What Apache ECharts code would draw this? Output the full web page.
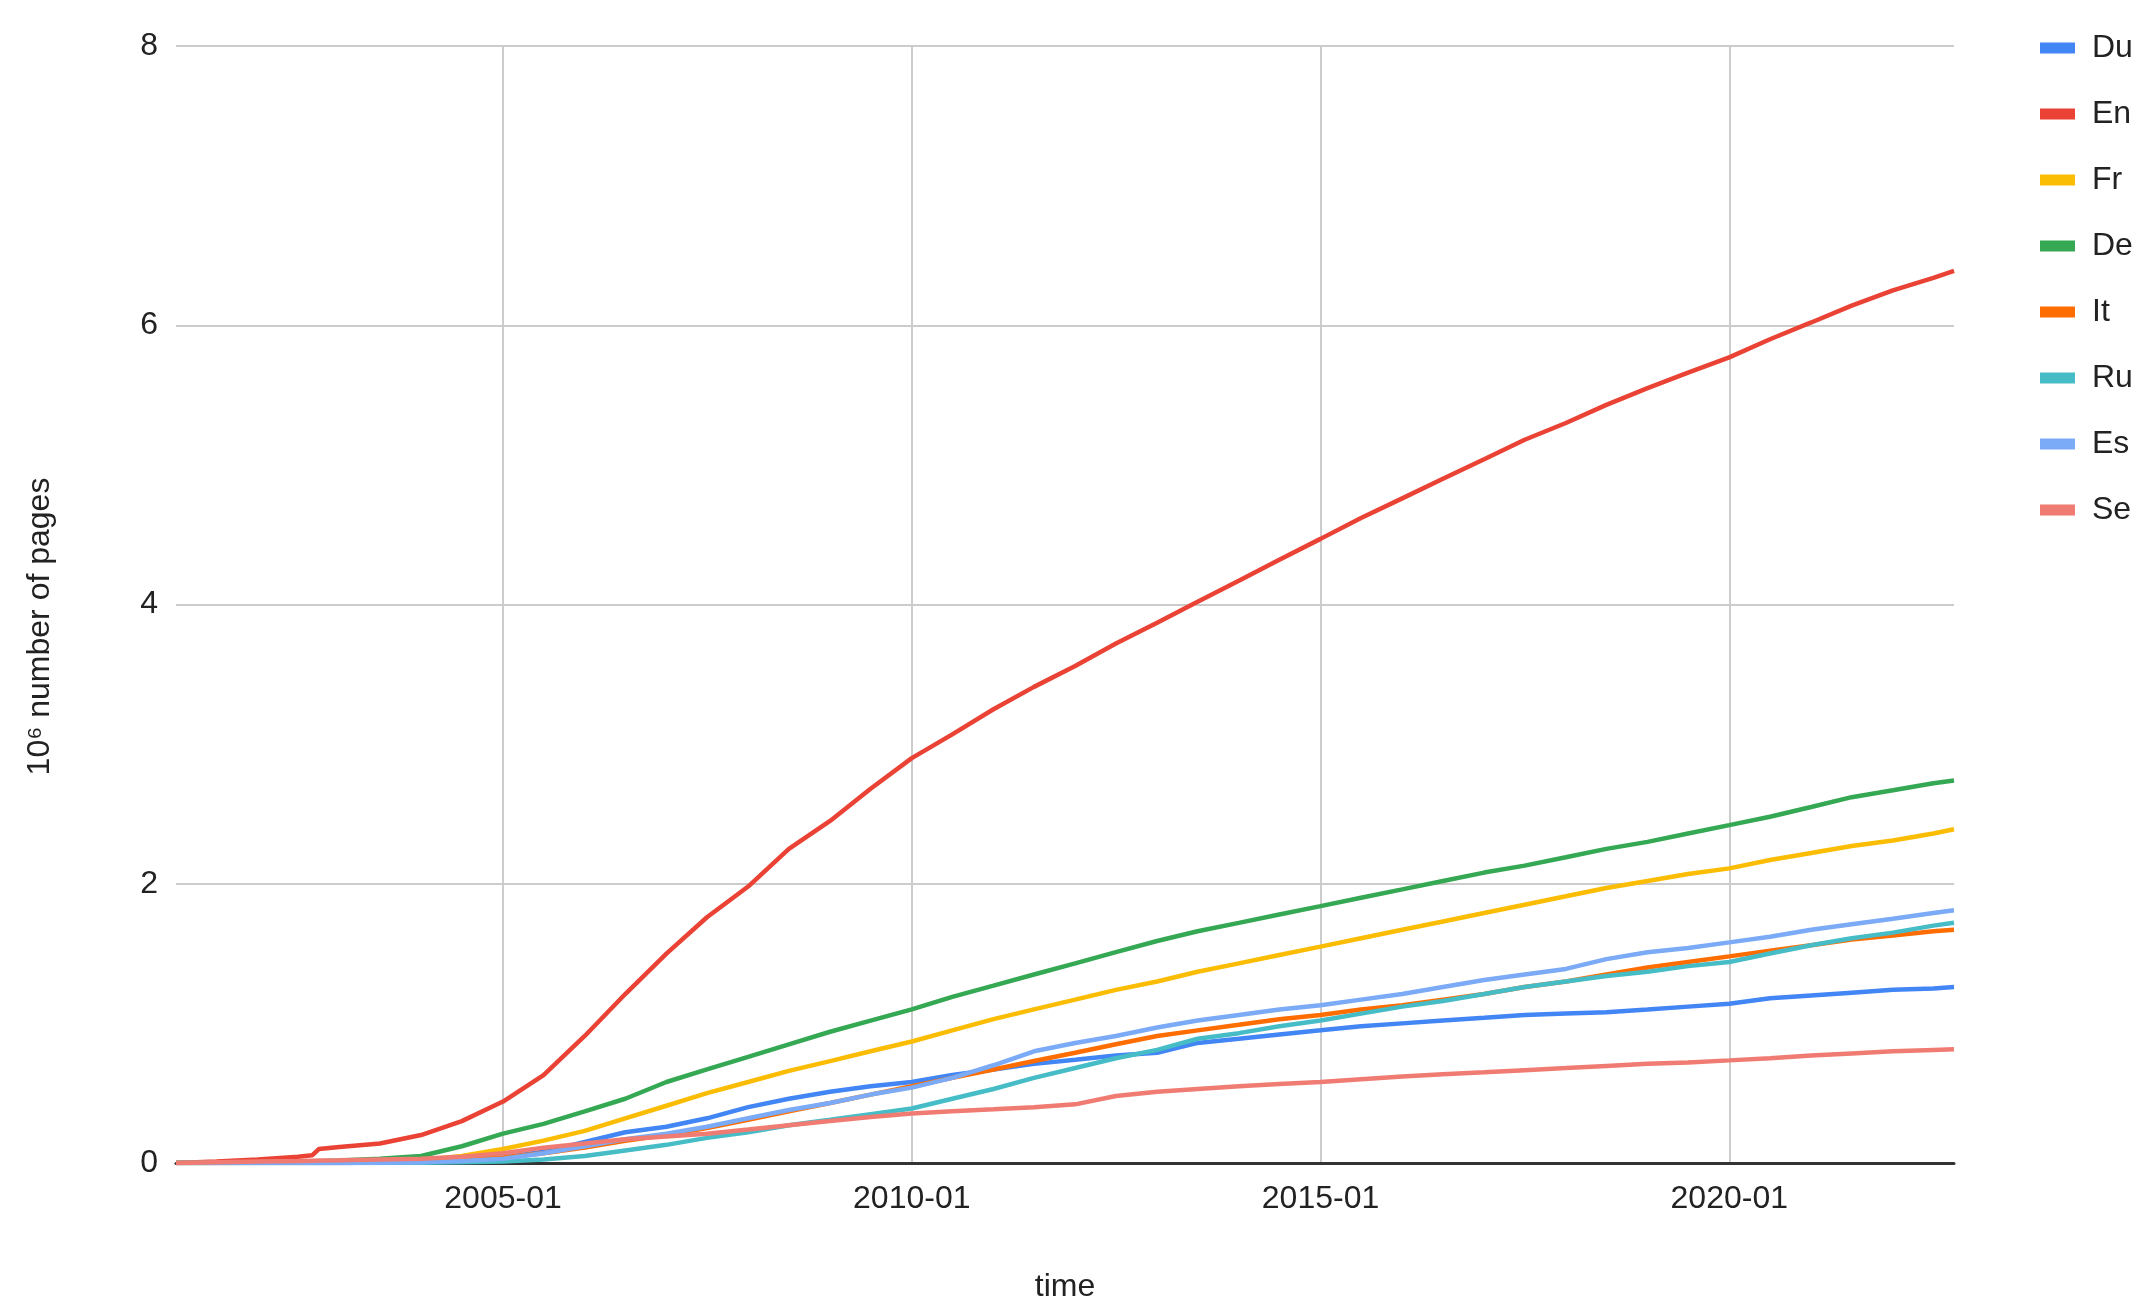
<!DOCTYPE html>
<html>
<head>
<meta charset="utf-8">
<script src="https://cdn.jsdelivr.net/npm/echarts@6/dist/echarts.min.js"></script>
<style>
html,body{margin:0;padding:0;background:#fff;}
#chart{width:2152px;height:1315px;}
</style>
</head>
<body>
<div id="chart"></div>
<script>
const dates = ['2001-01','2001-07','2002-01','2002-07','2002-09','2002-10','2003-01','2003-07','2004-01','2004-07',
  '2005-01','2005-07','2006-01','2006-07','2007-01','2007-07','2008-01','2008-07','2009-01','2009-07',
  '2010-01','2010-07','2011-01','2011-07','2012-01','2012-07','2013-01','2013-07','2014-01','2014-07',
  '2015-01','2015-07','2016-01','2016-07','2017-01','2017-07','2018-01','2018-07','2019-01','2019-07',
  '2020-01','2020-07','2021-01','2021-07','2022-01','2022-07','2022-10'];

const seriesNames = ['Du','En','Fr','De','It','Ru','Es','Se'];
const seriesColors = ['#4285F4','#EA4335','#FBBC04','#34A853','#FF6D01','#46BDC6','#7BAAF7','#F07B72'];

const du = [0,0,0,0,0,0,0,0.003,0.01,0.02,
  0.04,0.08,0.15,0.22,0.26,0.32,0.40,0.46,0.51,0.55,
  0.58,0.63,0.67,0.71,0.74,0.77,0.79,0.86,0.89,0.92,
  0.95,0.98,1.00,1.02,1.04,1.06,1.07,1.08,1.10,1.12,
  1.14,1.18,1.20,1.22,1.24,1.25,1.26];
const en = [0,0.01,0.025,0.045,0.055,0.10,0.115,0.14,0.20,0.30,
  0.44,0.63,0.91,1.21,1.50,1.76,1.98,2.25,2.45,2.68,
  2.90,3.07,3.25,3.41,3.56,3.72,3.87,4.02,4.17,4.32,
  4.47,4.62,4.76,4.90,5.04,5.18,5.30,5.43,5.55,5.66,
  5.77,5.90,6.02,6.14,6.25,6.34,6.39];
const fr = [0,0,0.001,0.002,0.003,0.003,0.005,0.01,0.02,0.05,
  0.10,0.16,0.23,0.32,0.41,0.50,0.58,0.66,0.73,0.80,
  0.87,0.95,1.03,1.10,1.17,1.24,1.30,1.37,1.43,1.49,
  1.55,1.61,1.67,1.73,1.79,1.85,1.91,1.97,2.02,2.07,
  2.11,2.17,2.22,2.27,2.31,2.36,2.39];
const de = [0,0.002,0.005,0.01,0.012,0.013,0.018,0.03,0.05,0.12,
  0.21,0.28,0.37,0.46,0.58,0.67,0.76,0.85,0.94,1.02,
  1.10,1.19,1.27,1.35,1.43,1.51,1.59,1.66,1.72,1.78,
  1.84,1.90,1.96,2.02,2.08,2.13,2.19,2.25,2.30,2.36,
  2.42,2.48,2.55,2.62,2.67,2.72,2.74];
const it = [0,0,0,0,0,0,0,0.003,0.008,0.02,
  0.04,0.07,0.11,0.16,0.20,0.25,0.31,0.37,0.43,0.49,
  0.55,0.61,0.67,0.73,0.79,0.85,0.91,0.95,0.99,1.03,
  1.06,1.10,1.13,1.17,1.21,1.26,1.30,1.35,1.40,1.44,
  1.48,1.52,1.56,1.60,1.63,1.66,1.67];
const ru = [0,0,0,0,0,0,0,0,0.002,0.005,
  0.01,0.025,0.05,0.09,0.13,0.18,0.22,0.27,0.31,0.35,
  0.39,0.46,0.53,0.61,0.68,0.75,0.81,0.89,0.93,0.98,
  1.02,1.07,1.12,1.16,1.21,1.26,1.30,1.34,1.37,1.41,
  1.44,1.50,1.56,1.61,1.65,1.70,1.72];
const es = [0,0,0,0,0,0,0,0.002,0.005,0.015,
  0.03,0.07,0.12,0.17,0.21,0.26,0.32,0.38,0.43,0.49,
  0.54,0.61,0.70,0.80,0.86,0.91,0.97,1.02,1.06,1.10,
  1.13,1.17,1.21,1.26,1.31,1.35,1.39,1.46,1.51,1.54,
  1.58,1.62,1.67,1.71,1.75,1.79,1.81];
const se = [0,0.005,0.01,0.015,0.017,0.018,0.02,0.025,0.03,0.045,
  0.07,0.11,0.14,0.17,0.19,0.21,0.24,0.27,0.30,0.33,
  0.355,0.37,0.385,0.40,0.42,0.48,0.51,0.53,0.55,0.565,
  0.58,0.60,0.62,0.635,0.65,0.665,0.68,0.695,0.71,0.72,
  0.735,0.75,0.77,0.785,0.80,0.81,0.815];

const xTickLabels = ['2005-01','2010-01','2015-01','2020-01'];
const yTicks = [0,2,4,6,8];
const xRange = ['2001-01','2022-10'];

const allValues = [du,en,fr,de,it,ru,es,se];

function toTime(ym){ const p = ym.split('-'); return Date.UTC(+p[0], +p[1]-1, 1); }
function fmt(v){ const d = new Date(v); return d.getUTCFullYear() + '-' + String(d.getUTCMonth()+1).padStart(2,'0'); }

const FONT = '"Liberation Sans", Arial, sans-serif';
const chart = echarts.init(document.getElementById('chart'));
chart.setOption({
  animation: false,
  backgroundColor: '#ffffff',
  color: seriesColors,
  grid: { left: 176, right: 198, top: 46, bottom: 152, containLabel: false },
  legend: {
    orient: 'vertical', left: 2035, top: 23,
    icon: 'rect', itemWidth: 35, itemHeight: 11, itemGap: 26,
    textStyle: { fontFamily: FONT, fontSize: 32, color: '#222', lineHeight: 40, padding: [0,0,0,12] },
    data: seriesNames
  },
  xAxis: {
    type: 'value',
    min: toTime(xRange[0]), max: toTime(xRange[1]),
    name: 'time', nameLocation: 'middle', nameGap: 108,
    nameTextStyle: { fontFamily: FONT, fontSize: 32, color: '#222' },
    axisLine: { show: true, lineStyle: { color: '#333', width: 3 } },
    axisTick: { show: false, customValues: xTickLabels.map(toTime) },
    axisLabel: { customValues: xTickLabels.map(toTime), formatter: fmt, fontFamily: FONT, fontSize: 32, color: '#222', margin: 20 },
    splitLine: { show: true, lineStyle: { color: '#cccccc', width: 2 } }
  },
  yAxis: {
    type: 'value', min: yTicks[0], max: yTicks[yTicks.length-1], interval: 2,
    name: '10\u2076 number of pages', nameLocation: 'middle', nameGap: 120,
    nameTextStyle: { fontFamily: FONT, fontSize: 32, color: '#222', padding: [0, 44, 0, 0] },
    axisLine: { show: false }, axisTick: { show: false },
    axisLabel: { fontFamily: FONT, fontSize: 32, color: '#222', margin: 18 },
    splitLine: { show: true, lineStyle: { color: '#cccccc', width: 2 } }
  },
  series: seriesNames.map((n, k) => ({
    name: n, type: 'line', showSymbol: false, symbol: 'none',
    lineStyle: { width: 4.5, color: seriesColors[k] },
    itemStyle: { color: seriesColors[k] },
    data: dates.map((d, i) => [toTime(d), allValues[k][i]])
  }))
});
</script>
</body>
</html>
